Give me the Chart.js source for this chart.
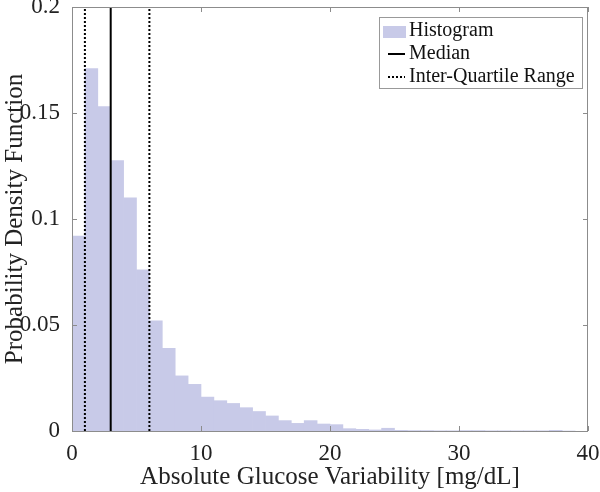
<!DOCTYPE html>
<html>
<head>
<meta charset="utf-8">
<script src="https://cdn.jsdelivr.net/npm/chart.js@4"></script>
<style>
  html, body { margin: 0; padding: 0; background: #fff; }
  #wrap { width: 600px; height: 492px; }
</style>
</head>
<body>
<div id="wrap"><canvas id="histChart" width="600" height="492"></canvas></div>
<script>
// histogram bins, width 1 mg/dL, starting at 0
const binStarts = [0,1,2,3,4,5,6,7,8,9,10,11,12,13,14,15,16,17,18,19,20,21,22,23,24,25,26,27,28,29,30,31,32,33,34,35,36,37,38];
const density = [0.092,0.171,0.153,0.1275,0.110,0.076,0.052,0.039,0.026,0.022,0.016,0.0143,0.013,0.011,0.0092,0.0071,0.0049,0.0036,0.0049,0.0033,0.003,0.0011,0.0008,0.0005,0.0013,0.0003,0.0002,0.0002,0.0001,0.0001,0.0002,0.0002,0.0001,0.0001,0.0001,0.0001,0.0001,0.0003,0];
const median = 3.0;
const quartiles = [1.0, 6.0];
const xTicks = [0, 10, 20, 30, 40];
const yTicks = [0, 0.05, 0.1, 0.15, 0.2];
const legendLabels = ['Histogram', 'Median', 'Inter-Quartile Range'];

const serif = "'Liberation Serif', 'DejaVu Serif', serif";
const barColor = 'rgb(200,202,232)';
const axisColor = '#8c8c8c';

const vline = (x, label, dash) => ({
  type: 'line',
  label,
  data: [{x, y: 0}, {x, y: 0.2}],
  borderColor: '#000',
  borderWidth: 2,
  borderDash: dash,
  pointRadius: 0,
  fill: false
});

// box + inward ticks like the original figure
const boxPlugin = {
  id: 'box',
  afterDatasetsDraw(chart) {
    const {ctx, chartArea: a, scales} = chart;
    ctx.save();
    ctx.strokeStyle = axisColor;
    ctx.lineWidth = 1;
    ctx.strokeRect(a.left + 0.5, a.top + 0.5, a.right - a.left - 1, a.bottom - a.top);
    ctx.beginPath();
    xTicks.forEach(v => {
      const px = Math.round(scales.x.getPixelForValue(v)) + 0.5;
      ctx.moveTo(px, a.bottom); ctx.lineTo(px, a.bottom - 5);
      ctx.moveTo(px, a.top); ctx.lineTo(px, a.top + 5);
    });
    yTicks.forEach(v => {
      const py = Math.round(scales.y.getPixelForValue(v)) + 0.5;
      ctx.moveTo(a.left, py); ctx.lineTo(a.left + 5, py);
      ctx.moveTo(a.right, py); ctx.lineTo(a.right - 5, py);
    });
    ctx.stroke();

    // legend
    const lx = 379, ly = 17, lw = 203, lh = 71;
    ctx.fillStyle = '#fff';
    ctx.fillRect(lx, ly, lw, lh);
    ctx.strokeStyle = '#999';
    ctx.strokeRect(lx + 0.5, ly + 0.5, lw, lh);
    ctx.fillStyle = barColor;
    ctx.fillRect(lx + 4, ly + 9, 23, 12);
    ctx.strokeStyle = '#000';
    ctx.lineWidth = 2;
    ctx.beginPath();
    ctx.moveTo(lx + 9, ly + 37); ctx.lineTo(lx + 26, ly + 37);
    ctx.stroke();
    ctx.setLineDash([2, 2]);
    ctx.beginPath();
    ctx.moveTo(lx + 9, ly + 60); ctx.lineTo(lx + 26, ly + 60);
    ctx.stroke();
    ctx.setLineDash([]);
    ctx.fillStyle = '#111';
    ctx.font = '20px ' + serif;
    ctx.textBaseline = 'middle';
    legendLabels.forEach((t, i) => ctx.fillText(t, lx + 30, ly + 14 + i * 23));
    ctx.restore();
  }
};

new Chart(document.getElementById('histChart'), {
  type: 'bar',
  data: {
    datasets: [
      {
        label: legendLabels[0],
        data: binStarts.map((b, i) => ({x: b + 0.5, y: density[i]})),
        backgroundColor: barColor,
        borderWidth: 0,
        barPercentage: 1,
        categoryPercentage: 1,
        order: 3
      },
      Object.assign(vline(median, legendLabels[1], []), {order: 1}),
      Object.assign(vline(quartiles[0], legendLabels[2], [2, 2]), {order: 2}),
      Object.assign(vline(quartiles[1], legendLabels[2], [2, 2]), {order: 2})
    ]
  },
  options: {
    responsive: false,
    animation: false,
    layout: { padding: { top: 7, right: 12, left: 0, bottom: 0 } },
    plugins: { legend: { display: false }, tooltip: { enabled: false } },
    scales: {
      x: {
        type: 'linear',
        min: 0, max: 40,
        offset: false,
        grid: { display: false, offset: false },
        border: { display: false },
        afterBuildTicks: s => { s.ticks = xTicks.map(v => ({value: v})); },
        afterFit: s => { s.height = 61; s.paddingLeft = 0; s.paddingRight = 0; },
        ticks: { font: { family: serif, size: 23 }, color: '#222', padding: 1, maxRotation: 0 },
        title: { display: true, text: 'Absolute Glucose Variability [mg/dL]', font: { family: serif, size: 25 }, color: '#222', padding: { top: 0, bottom: 0 } }
      },
      y: {
        min: 0, max: 0.2,
        grid: { display: false },
        border: { display: false },
        afterBuildTicks: s => { s.ticks = yTicks.map(v => ({value: v})); },
        afterFit: s => { s.width = 72; s.paddingTop = 0; s.paddingBottom = 0; },
        ticks: { font: { family: serif, size: 23 }, color: '#222', padding: 4, callback: v => String(v) },
        title: { display: true, text: 'Probability Density Function', font: { family: serif, size: 25 }, color: '#222', padding: { top: 0, bottom: 0 } }
      }
    }
  },
  plugins: [boxPlugin]
});
</script>
</body>
</html>
